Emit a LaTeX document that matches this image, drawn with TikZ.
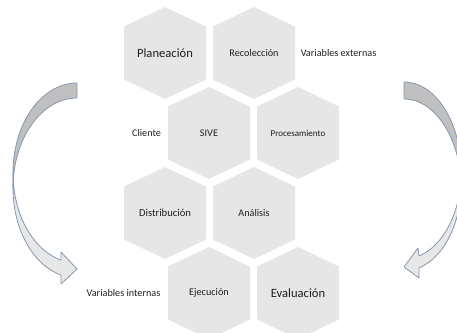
\documentclass[tikz,border=0pt]{standalone}
\usepackage{fontspec}
\setmainfont{Carlito}
\definecolor{hexfill}{HTML}{E7E6E6}
\definecolor{arrdark}{HTML}{C0C0C0}
\definecolor{arrlight}{HTML}{E7E7E7}
\definecolor{arredge}{HTML}{8497B0}
\definecolor{txt}{HTML}{1E1E1E}
\begin{document}
\begin{tikzpicture}[x=1pt,y=1pt,
  lbl/.style={text=txt,inner sep=0pt,font=\fontsize{10.2}{12}\selectfont},
  biglbl/.style={lbl,font=\fontsize{12.6}{15}\selectfont},
  hexshape/.style={fill=hexfill},
  backpart/.style={fill=arrdark,draw=arredge,line width=0.8pt,line join=round},
  frontpart/.style={fill=arrlight,draw=arredge,line width=0.8pt,line join=round}]
\useasboundingbox (0,0) rectangle (457,332);
\clip (0,0) rectangle (457,332);
% hexagons
\foreach \cx/\cy in {165/279,254/279,209/199,298/199,165/119,254/119,209/39,298/39}{
  \fill[hexshape] ({\cx-41},{\cy+26.5}) -- (\cx,{\cy+46}) -- ({\cx+41},{\cy+26.5})
    -- ({\cx+41},{\cy-26.5}) -- (\cx,{\cy-46}) -- ({\cx-41},{\cy-26.5}) -- cycle;
}
% labels
\node[biglbl] (plan) at (165,279) {Planeación};
\node[lbl] (reco) at (254,279) {Recolección};
\node[lbl] (sive) at (209,199) {SIVE};
\node[lbl,font=\fontsize{9}{11}\selectfont] (proc) at (298,199) {Procesamiento};
\node[lbl,font=\fontsize{10.6}{12}\selectfont] (dist) at (165,119) {Distribución};
\node[lbl] (anal) at (254,119) {Análisis};
\node[lbl] (ejec) at (209,39) {Ejecución};
\node[biglbl] (eval) at (298,39) {Evaluación};
\node[lbl] (vext) at (338.5,279) {Variables externas};
\node[lbl] (cli) at (146.5,199) {Cliente};
\node[lbl] (vint) at (123.5,39) {Variables internas};
% left curved arrow
\path[backpart] (77,249) arc[start angle=90,end angle=180,x radius=64,y radius=90]
  -- (13,144) arc[start angle=180,end angle=90,x radius=64,y radius=90] -- cycle;
\path[frontpart] (13,159) arc[start angle=180,end angle=255.52,x radius=64,y radius=90]
  -- (61,80) -- (77,63) -- (61,48) -- (61,56.9)
  arc[start angle=255.52,end angle=180,x radius=64,y radius=90] -- cycle;
% right curved arrow
\path[backpart] (404,250) arc[start angle=90,end angle=0,x radius=57.4,y radius=91]
  -- (461.4,142) arc[start angle=0,end angle=90,x radius=57.4,y radius=91] -- cycle;
\path[frontpart] (461.4,161) arc[start angle=0,end angle=-74.85,x radius=57.4,y radius=88]
  -- (418,84) -- (404,65) -- (419,54) -- (419,64.1)
  arc[start angle=-74.85,end angle=0,x radius=57.4,y radius=88] -- cycle;
\end{tikzpicture}
\end{document}
